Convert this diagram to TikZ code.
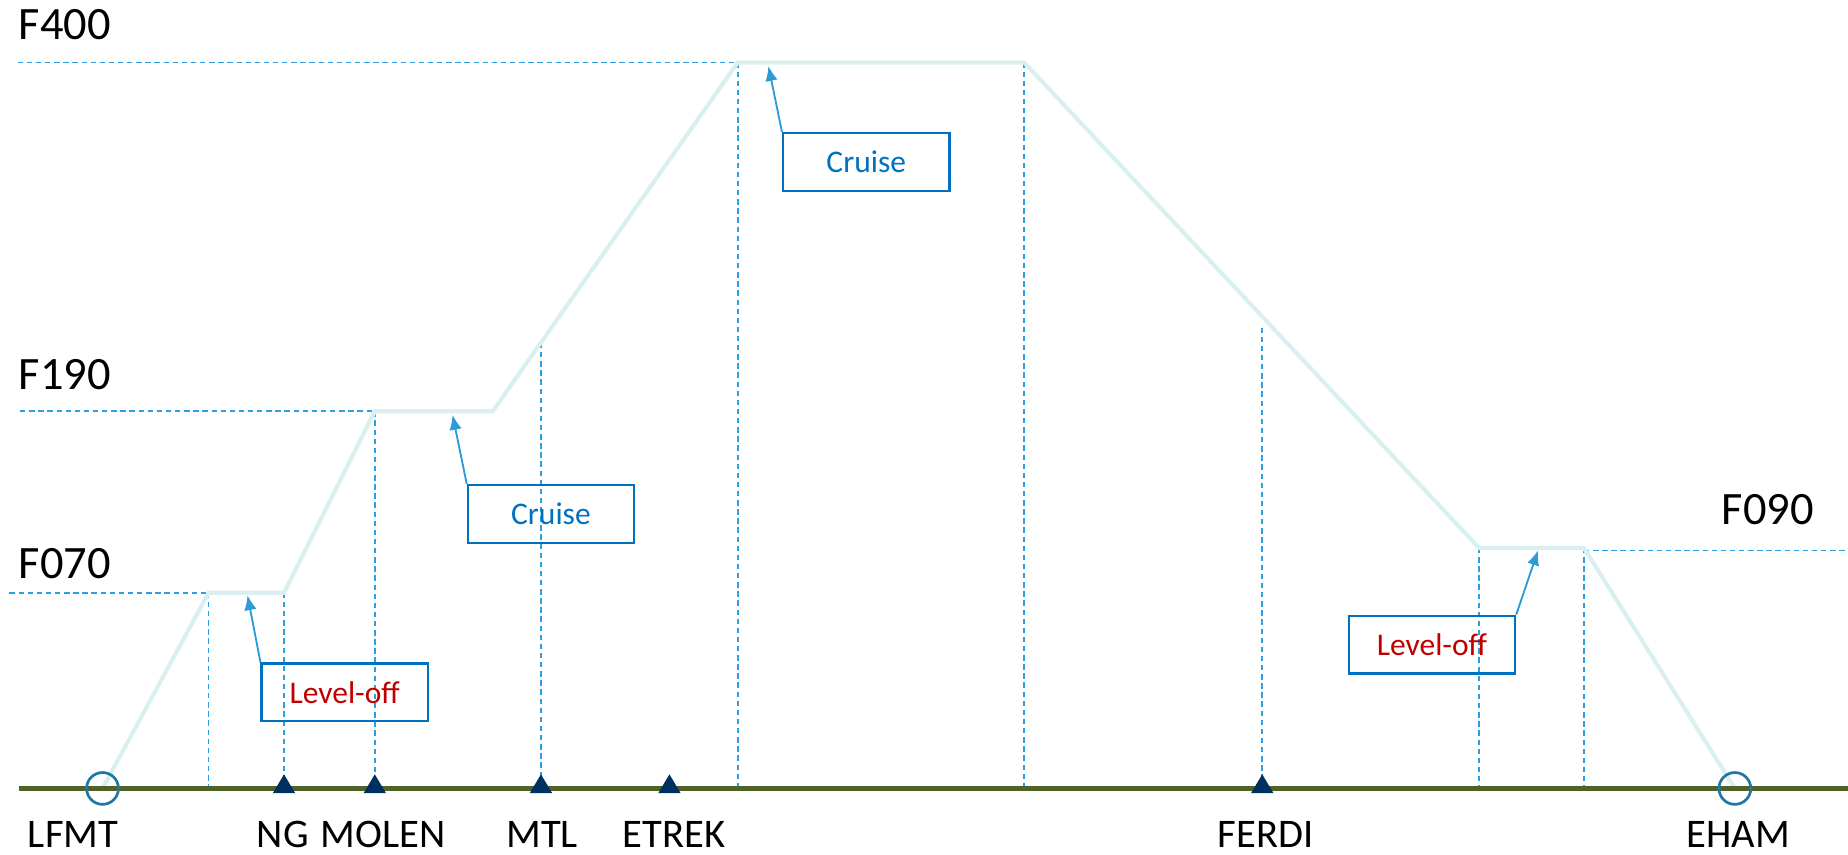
\documentclass[tikz,border=0pt]{standalone}
\usepackage{fontspec}
\setmainfont{Carlito}
\usetikzlibrary{arrows.meta,calc}
\definecolor{profile}{HTML}{DAEFF0}
\definecolor{guide}{HTML}{2C9FE0}
\definecolor{pointer}{HTML}{2E9BD6}
\definecolor{boxblue}{HTML}{0070C0}
\definecolor{levred}{HTML}{C00000}
\definecolor{ground}{HTML}{4F6228}
\definecolor{navy}{HTML}{00305F}
\definecolor{airport}{HTML}{1F77A4}
\begin{document}
\begin{tikzpicture}[x=.01cm, y=-.01cm, >={Latex[length=3.6pt,width=3pt]},
  guide/.style={draw=guide, line width=.4pt, dash pattern=on 1.3pt off .9pt},
  flightpath/.style={draw=profile, line width=1pt},
  callout/.style={draw=boxblue, line width=.55pt, minimum width=1.41cm, minimum height=.49cm, inner sep=0pt, font=\fontsize{7.6}{9}\selectfont},
  lvl/.style={inner sep=0pt, font=\fontsize{11.2}{13}\selectfont},
  waylbl/.style={inner sep=0pt, font=\fontsize{9.8}{12}\selectfont}]
\useasboundingbox (0,0) rectangle (1568,725);

\coordinate (LFMT) at (87,669);
\coordinate (NG) at (241,669);
\coordinate (MOLEN) at (318,669);
\coordinate (MTL) at (459,669);
\coordinate (ETREK) at (568,669);
\coordinate (FERDI) at (1071,669);
\coordinate (EHAM) at (1472,669);
\coordinate (gw) at (16,669);
\coordinate (ge) at (1568,669);

% profile corners
\coordinate (p1) at (177,503);
\coordinate (p2) at (241,503);
\coordinate (p3) at (318,349);
\coordinate (p4) at (418,349);
\coordinate (p5) at (626,53);
\coordinate (p6) at (869,53);
\coordinate (p7) at (1255,465);
\coordinate (p8) at (1344,465);
\coordinate (mtltop) at (459,291);
\coordinate (ferditop) at (1071,278);

\coordinate (w400) at (15,53);
\coordinate (w190) at (17,349);
\coordinate (w070) at (8,503);
\coordinate (e090) at (1566,467);

\draw[guide](w400)--(p5);
\draw[guide](w190)--(p3);
\draw[guide](w070)--(p1);
\draw[guide]($(p8)+(0,2)$)--(e090);
\foreach \p in {p1,p2,p3,p5,p6,p7,p8}
  \draw[guide](\p)--(\p |- gw);
\draw[guide](mtltop)--(MTL);
\draw[guide](ferditop)--(FERDI);

\draw[flightpath](LFMT)--(p1)--(p2)--(p3)--(p4)--(p5)--(p6)--(p7)--(p8)--(EHAM);

\draw[ground, line width=1pt](gw)--(ge);

\foreach \w in {NG,MOLEN,MTL,ETREK,FERDI}
  \fill[navy]($(\w)+(-9.5,4)$)--($(\w)+(9.5,4)$)--($(\w)+(0,-12)$)--cycle;
\foreach \w in {LFMT,EHAM}
  \draw[airport, line width=.65pt](\w) circle (13.5);

\node[lvl] (F400) at (55,21) {F400};
\node[lvl] (F190) at (55,318) {F190};
\node[lvl] (F070) at (55,478) {F070};
\node[lvl] (F090) at (1500,432) {F090};

\node[waylbl] (lLFMT) at (62,708) {LFMT};
\node[waylbl] (lNG) at (240,708) {NG};
\node[waylbl] (lMOLEN) at (325,708) {MOLEN};
\node[waylbl] (lMTL) at (460,708) {MTL};
\node[waylbl] (lETREK) at (572,708) {ETREK};
\node[waylbl] (lFERDI) at (1074,708) {FERDI};
\node[waylbl] (lEHAM) at (1475,708) {EHAM};

\node[callout, text=levred] (lev1) at (292.5,587.5) {Level-off};
\node[callout, text=boxblue] (cru1) at (467.5,436) {Cruise};
\node[callout, text=boxblue] (cru2) at (735,137.5) {Cruise};
\node[callout, text=levred] (lev2) at (1215,547) {Level-off};

\coordinate (t1) at (210,505);
\coordinate (t2) at (384,352);
\coordinate (t3) at (652,56);
\coordinate (t4) at (1305,467);
\draw[->, pointer, line width=.45pt](lev1.north west)--(t1);
\draw[->, pointer, line width=.45pt](cru1.north west)--(t2);
\draw[->, pointer, line width=.45pt](cru2.north west)--(t3);
\draw[->, pointer, line width=.45pt](lev2.north east)--(t4);

\end{tikzpicture}
\end{document}
